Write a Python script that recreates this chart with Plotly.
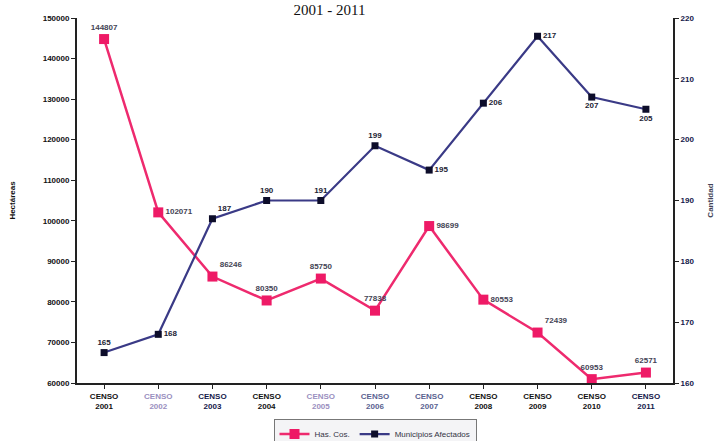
import plotly.graph_objects as go

categories = ["CENSO<br>2001", "CENSO<br>2002", "CENSO<br>2003", "CENSO<br>2004", "CENSO<br>2005",
              "CENSO<br>2006", "CENSO<br>2007", "CENSO<br>2008", "CENSO<br>2009", "CENSO<br>2010", "CENSO<br>2011"]
cat_colors = ["#111111", "#9a8fc0", "#14184a", "#111111", "#9a8fc0", "#5a6290", "#5a6290",
              "#111111", "#111111", "#111111", "#14184a"]
hectareas = [144807, 102071, 86246, 80350, 85750, 77838, 98699, 80553, 72439, 60953, 62571]
hect_labels = ["144807", "102071", "86246", "80350", "85750", "77838", "98699", "80553", "72439", "60953", "62571"]
hect_pos = ["top center", "middle right", "top right", "top center", "top center", "top center",
            "middle right", "middle right", "top right", "top center", "top center"]
cantidad = [165, 168, 187, 190, 190, 199, 195, 206, 217, 207, 205]
cant_labels = ["165", "168", "187", "190", "191", "199", "195", "206", "217", "207", "205"]
cant_pos = ["top center", "middle right", "top right", "top center", "top center", "top center",
            "middle right", "middle right", "middle right", "bottom center", "bottom center"]
left_ticks = [60000, 70000, 80000, 90000, 100000, 110000, 120000, 130000, 140000, 150000]
right_ticks = [160, 170, 180, 190, 200, 210, 220]

x = list(range(len(categories)))
ticktext = [f'<span style="color:{c}">{t}</span>' for t, c in zip(categories, cat_colors)]
left_text = [str(v) for v in left_ticks]
right_text = [str(v) for v in right_ticks]

fig = go.Figure()
fig.add_trace(go.Scatter(
    x=x, y=hectareas, name="Has. Cos.", mode="lines+markers+text",
    line=dict(color="#ee2a6e", width=2.5),
    marker=dict(symbol="square", size=10, color="#ee1a66"),
    text=hect_labels, textposition=hect_pos,
    textfont=dict(family="Liberation Sans", size=8, color="#444455", weight="bold"),
    yaxis="y"))
fig.add_trace(go.Scatter(
    x=x, y=cantidad, name="Municipios Afectados", mode="lines+markers+text",
    line=dict(color="#3a3a86", width=2.2),
    marker=dict(symbol="square", size=7, color="#0d0d2a"),
    text=cant_labels, textposition=cant_pos,
    textfont=dict(family="Liberation Sans", size=8, color="#222233", weight="bold"),
    yaxis="y2"))

fig.update_layout(
    width=724, height=441,
    margin=dict(l=77, r=51, t=18, b=58, autoexpand=False),
    paper_bgcolor="white", plot_bgcolor="white",
    title=dict(text="2001 - 2011", x=0.455, xanchor="center", y=0.99, yanchor="top",
               font=dict(family="Liberation Serif", size=15, color="#111111")),
    xaxis=dict(tickmode="array", tickvals=x, ticktext=ticktext, range=[-0.5, 10.5],
               showline=True, linecolor="#222222", linewidth=2, showgrid=False, zeroline=False,
               ticks="outside", ticklen=4, tickcolor="#222222", automargin=False,
               tickfont=dict(family="Liberation Sans", size=8, color="#111111", weight="bold")),
    yaxis=dict(range=[60000, 150000], tickmode="array", tickvals=left_ticks, ticktext=left_text,
               showline=True, linecolor="#222222", automargin=False,
               linewidth=2, showgrid=False, zeroline=False, ticks="outside", ticklen=4,
               tickcolor="#222222",
               tickfont=dict(family="Liberation Sans", size=8, color="#111111", weight="bold"),
               title=dict(text="Hectáreas",
                          font=dict(family="Liberation Sans", size=8, color="#111111", weight="bold"),
                          standoff=26)),
    yaxis2=dict(range=[160, 220], tickmode="array", tickvals=right_ticks, ticktext=right_text,
                overlaying="y", side="right", automargin=False,
                showline=True, linecolor="#222222", linewidth=2, showgrid=False, zeroline=False,
                ticks="outside", ticklen=4, tickcolor="#222222",
                tickfont=dict(family="Liberation Sans", size=8, color="#14184a", weight="bold"),
                title=dict(text="Cantidad",
                           font=dict(family="Liberation Sans", size=8, color="#444455", weight="bold"),
                           standoff=14)),
    legend=dict(orientation="h", x=0.5, xanchor="center", y=-0.14, yanchor="middle",
                bordercolor="#777777", borderwidth=1, bgcolor="#f4f4f6",
                itemwidth=30, tracegroupgap=0,
                font=dict(family="Liberation Sans", size=8, color="#333344")),
    showlegend=True,
)
fig.write_html("out.html", config={"displayModeBar": False},
               post_script="document.body.style.margin='0';document.body.style.overflow='hidden';")
